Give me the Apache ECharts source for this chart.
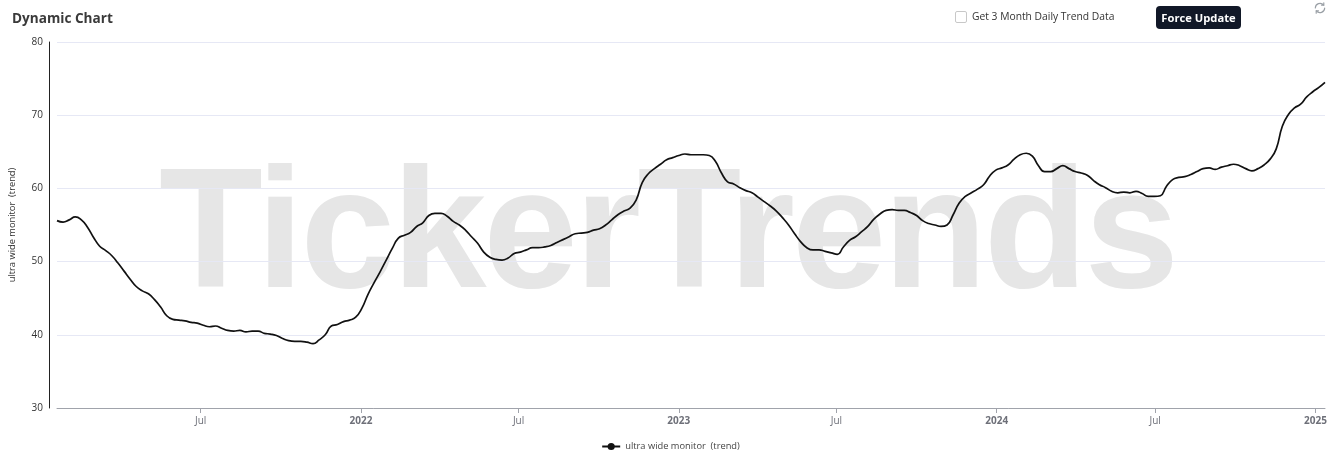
<!DOCTYPE html>
<html>
<head>
<meta charset="utf-8">
<script src="https://cdn.jsdelivr.net/npm/echarts@6/dist/echarts.min.js"></script>
<style>
  html, body { margin: 0; padding: 0; background: #fff; }
  body { width: 1341px; height: 461px; position: relative; overflow: hidden; font-family: "Open Sans", "Noto Sans", sans-serif; }
  #wm { position: absolute; left: 159px; top: 143px; font-family: "Liberation Sans", Arial, sans-serif; font-weight: bold; font-size: 170px; color: #e6e6e6; letter-spacing: -3.2px; white-space: nowrap; line-height: 1; z-index: 0; }
  #chart { position: absolute; left: 0; top: 0; width: 1341px; height: 461px; z-index: 1; }
  #title { position: absolute; left: 12px; top: 8px; font-size: 13.6px; font-weight: 700; color: #3a3a3a; z-index: 2; }
  #chk { position: absolute; left: 955px; top: 11px; width: 10px; height: 10px; border: 1px solid #c8c8c8; border-radius: 2px; background: #fff; z-index: 2; }
  #chkTxt { position: absolute; left: 972px; top: 9px; font-size: 10.3px; color: #333; z-index: 2; }
  #btn { position: absolute; left: 1156px; top: 6px; width: 85px; height: 23px; background: #111827; color: #fff; border-radius: 4px; font-size: 11.2px; font-weight: 700; line-height: 23px; text-align: center; z-index: 2; }
  #refresh { position: absolute; left: 1313px; top: 1px; z-index: 2; }
</style>
</head>
<body>
<div id="wm">TickerTrends</div>
<div id="chart"></div>
<div id="title">Dynamic Chart</div>
<div id="chk"></div>
<div id="chkTxt">Get 3 Month Daily Trend Data</div>
<div id="btn">Force Update</div>
<svg id="refresh" width="14" height="14" viewBox="0 0 24 24" fill="none" stroke="#9aa0a6" stroke-width="2" stroke-linecap="round">
  <path d="M20 12a8 8 0 0 1-14.2 5"/><path d="M4 12a8 8 0 0 1 14.2-5"/><path d="M18.5 3v4h-4"/><path d="M5.5 21v-4h4"/>
</svg>
<script>
const seriesName = 'ultra wide monitor  (trend)';
const yAxisName = 'ultra wide monitor  (trend)';
const startDate = '2021-01-17'; // weekly observations
const yTicks = [30, 40, 50, 60, 70, 80];
const values = [
  55.6, 55.4, 55.7, 56.1, 55.7, 54.7, 53.3, 52.1, 51.5, 50.8,
  49.8, 48.7, 47.6, 46.6, 46.0, 45.6, 44.8, 43.8, 42.6, 42.1,
  42.0, 41.9, 41.7, 41.6, 41.3, 41.1, 41.2, 40.9, 40.6, 40.5,
  40.6, 40.4, 40.5, 40.5, 40.2, 40.1, 39.9, 39.5, 39.2, 39.1,
  39.1, 39.0, 38.8, 39.3, 40.0, 41.2, 41.4, 41.8, 42.0, 42.4,
  43.6, 45.5, 47.1, 48.6, 50.2, 51.8, 53.2, 53.6, 54.0, 54.8,
  55.3, 56.3, 56.6, 56.6, 56.2, 55.5, 55.0, 54.3, 53.4, 52.5,
  51.3, 50.6, 50.3, 50.2, 50.5, 51.1, 51.3, 51.6, 51.9, 51.9,
  52.0, 52.2, 52.6, 53.0, 53.4, 53.8, 53.9, 54.0, 54.3, 54.5,
  55.0, 55.7, 56.4, 56.9, 57.3, 58.4, 60.8, 62.0, 62.7, 63.3,
  63.9, 64.2, 64.5, 64.7, 64.6, 64.6, 64.6, 64.5, 63.7, 62.1,
  60.9, 60.6, 60.1, 59.7, 59.4, 58.8, 58.2, 57.6, 56.9, 56.0,
  55.0, 53.8, 52.7, 51.9, 51.6, 51.6, 51.4, 51.2, 51.0, 52.0,
  52.9, 53.4, 54.1, 54.8, 55.8, 56.5, 57.0, 57.1, 57.0, 57.0,
  56.7, 56.3, 55.6, 55.2, 55.0, 54.8, 55.0, 56.4, 58.0, 58.9,
  59.4, 59.9, 60.5, 61.7, 62.5, 62.8, 63.2, 64.0, 64.6, 64.8,
  64.4, 63.1, 62.3, 62.3, 62.7, 63.1, 62.7, 62.3, 62.1, 61.8,
  61.1, 60.5, 60.1, 59.6, 59.4, 59.5, 59.4, 59.6, 59.3, 58.9,
  58.9, 59.0, 60.3, 61.2, 61.5, 61.6, 61.9, 62.3, 62.7, 62.8,
  62.6, 62.9, 63.1, 63.3, 63.1, 62.7, 62.4, 62.7, 63.2, 64.0,
  65.4, 68.5, 70.1, 71.0, 71.5, 72.5, 73.2, 73.8, 74.5
];

const DAY = 86400000;
const t0 = Date.parse(startDate + 'T00:00:00Z');
const dates = values.map((_, i) => new Date(t0 + i * 7 * DAY).toISOString().slice(0, 10));
const seriesData = dates.map((d, i) => [d, values[i]]);

const chart = echarts.init(document.getElementById('chart'), null, { renderer: 'canvas' });
chart.setOption({
  backgroundColor: 'transparent',
  textStyle: { fontFamily: '"Open Sans", "Noto Sans", sans-serif' },
  animation: false,
  grid: { left: 57, right: 16, top: 42, bottom: 53, containLabel: false },
  legend: {
    bottom: 5,
    left: 'center',
    itemWidth: 18,
    itemHeight: 9,
    itemGap: 6,
    textStyle: { fontSize: 9.3, color: '#444' },
    data: [seriesName]
  },
  xAxis: {
    type: 'time',
    min: dates[0],
    max: dates[dates.length - 1],
    axisLine: { lineStyle: { color: '#a0a3ab' } },
    axisTick: { show: true, lineStyle: { color: '#a0a3ab' } },
    axisLabel: { fontSize: 10, color: '#6E7079', margin: 8 },
    splitLine: { show: false }
  },
  yAxis: {
    type: 'value',
    min: yTicks[0],
    max: yTicks[yTicks.length - 1],
    interval: 10,
    offset: 8,
    name: yAxisName,
    nameLocation: 'middle',
    nameGap: 32,
    nameTextStyle: { fontSize: 9.3, color: '#333' },
    axisLine: { show: true, lineStyle: { color: '#222' } },
    axisTick: { show: false },
    axisLabel: { fontSize: 10, color: '#333', margin: 6 },
    splitLine: { lineStyle: { color: '#E6E8F5' } }
  },
  series: [{
    name: seriesName,
    type: 'line',
    data: seriesData,
    smooth: true,
    symbol: 'circle',
    symbolSize: 8,
    showSymbol: false,
    lineStyle: { color: '#111', width: 1.7 },
    itemStyle: { color: '#111' }
  }]
});
</script>
</body>
</html>
